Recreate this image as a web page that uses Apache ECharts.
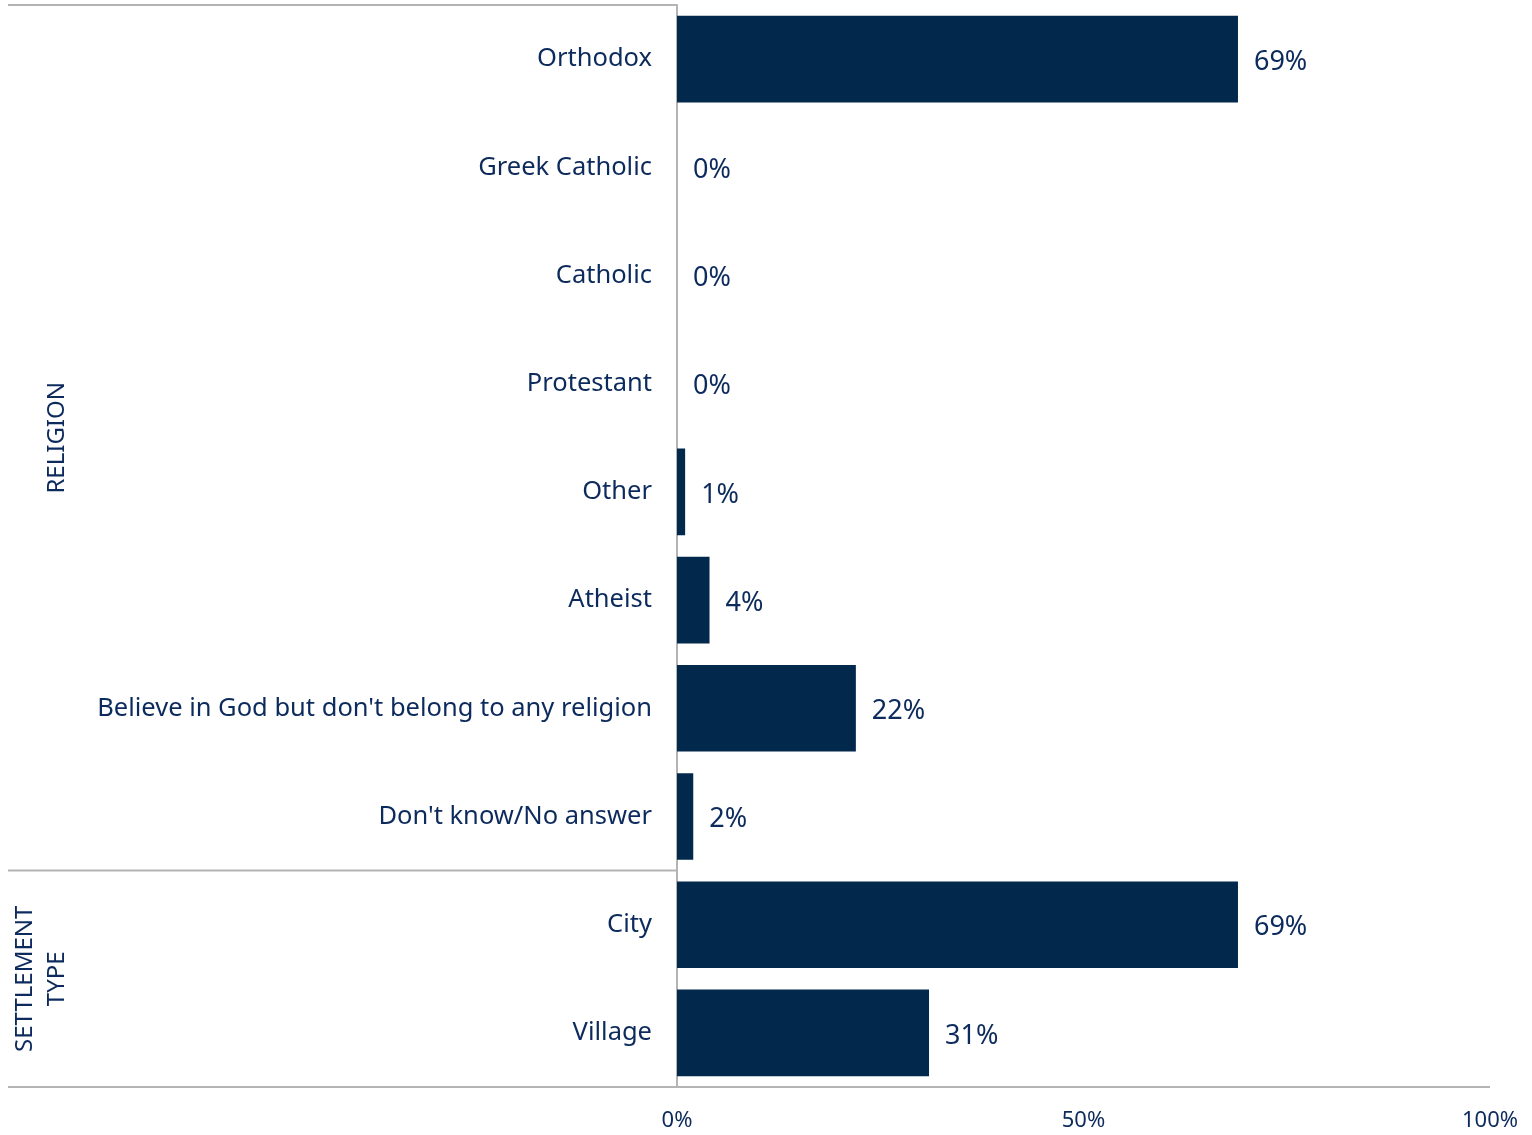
<!DOCTYPE html>
<html>
<head>
<meta charset="utf-8">
<script src="https://cdn.jsdelivr.net/npm/echarts@6/dist/echarts.min.js"></script>
<style>
html,body{margin:0;padding:0;background:#fff;}
#chart{width:1532px;height:1135px;}
</style>
</head>
<body>
<div id="chart"></div>
<script>
const categories = ["Orthodox","Greek Catholic","Catholic","Protestant","Other","Atheist","Believe in God but don't belong to any religion","Don't know/No answer","City","Village"];
const values = [69,0,0,0,1,4,22,2,69,31];
const groups = [
  {name: "RELIGION", lines: ["RELIGION"], from: 0, to: 7},
  {name: "SETTLEMENT TYPE", lines: ["SETTLEMENT", "TYPE"], from: 8, to: 9}
];
const xTicks = [0, 50, 100];

const FONT = "Noto Sans";
const TEXT = "#0c2a5c";
const BAR = "#02284b";
const LINE = "#b4b4b4";

const chart = echarts.init(document.getElementById('chart'));
const option = {
  animation: false,
  grid: {left: 677, right: 42, top: 5, bottom: 48, containLabel: false},
  xAxis: {
    type: 'value', min: xTicks[0], max: xTicks[xTicks.length - 1], interval: xTicks[1] - xTicks[0],
    axisLine: {show: false}, axisTick: {show: false}, splitLine: {show: false},
    axisLabel: {formatter: v => v + '%', color: TEXT, fontFamily: FONT, fontSize: 22, margin: 23}
  },
  yAxis: {
    type: 'category', data: categories, inverse: true,
    axisLine: {show: true, lineStyle: {color: LINE, width: 2}},
    axisTick: {show: false},
    axisLabel: {color: TEXT, fontFamily: FONT, fontSize: 25.5, margin: 25, padding: [4, 0, 0, 0]}
  },
  series: [{
    type: 'bar', data: values, barCategoryGap: '20%',
    itemStyle: {color: BAR},
    label: {show: true, position: 'right', distance: 16, offset: [0, 3], formatter: p => p.value + '%',
      color: TEXT, fontFamily: FONT, fontSize: 27}
  }]
};
chart.setOption(option);

// decorations derived from axes
const x0 = chart.convertToPixel({xAxisIndex: 0}, 0);
const x100 = chart.convertToPixel({xAxisIndex: 0}, 100);
const rowY = i => chart.convertToPixel({yAxisIndex: 0}, i);
const band = rowY(1) - rowY(0);
const edge = i => rowY(i) - band / 2; // top edge of row i
const leftX = 8;
const gfx = [];
const hl = (y, xa, xb) => gfx.push({type: 'line', shape: {x1: xa, y1: y, x2: xb, y2: y}, style: {stroke: LINE, lineWidth: 2}, silent: true});
hl(edge(0), leftX, x0);
hl(edge(groups[1].from), leftX, x0);
hl(edge(categories.length), leftX, x100);
groups.forEach(g => {
  const cy = (edge(g.from) + edge(g.to + 1)) / 2;
  const n = g.lines.length;
  g.lines.forEach((ln, k) => {
    const cx = 57 - (n - 1 - k) * 32;
    gfx.push({type: 'text', x: cx, y: cy, rotation: Math.PI / 2,
      style: {text: ln, fill: TEXT, font: '24px "' + FONT + '"', align: 'center', verticalAlign: 'middle'}, silent: true});
  });
});
chart.setOption({graphic: gfx});
</script>
</body>
</html>
